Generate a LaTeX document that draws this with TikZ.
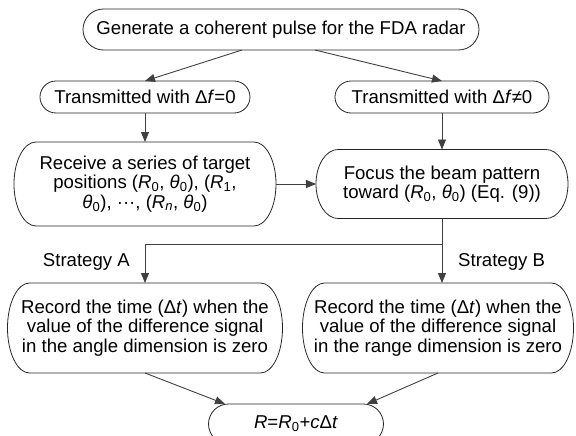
\documentclass[tikz,border=0pt]{standalone}
\usepackage{fontspec}
\setmainfont{Liberation Sans}
\usetikzlibrary{arrows.meta, positioning, calc}

\newcommand{\Rsub}[1]{\textit{R}\textsubscript{#1}}
\newcommand{\thsub}[1]{\textit{θ}\textsubscript{#1}}

\begin{document}
\begin{tikzpicture}[
node distance = 29pt and 40pt,
   box/.style = {inner sep=0pt, outer sep=0pt, align=center,
                 font=\fontsize{18.6pt}{19.5pt}\selectfont},
   lbl/.style = {inner sep=0pt, font=\fontsize{18.6pt}{19.5pt}\selectfont},
outline/.style = {draw=black!85, line width=0.8pt},
  line/.style = {black!75, line width=0.9pt},
            > = {Triangle[length=10pt, width=8pt]},
         ]
\useasboundingbox (-281pt,29.5pt) rectangle (295pt,-406.5pt);

\node (gen)   [box, minimum width=396pt, minimum height=41pt]
              {Generate a coherent pulse for the FDA radar};
\node (tz)    [box, below=31pt of gen, xshift=-136pt,
               minimum width=210pt, minimum height=32pt]
              {Transmitted with Δ\textit{f}=0};
\node (tn)    [box, below=31pt of gen, xshift=161pt,
               minimum width=214pt, minimum height=32pt]
              {Transmitted with Δ\textit{f}≠0};
\node (recv)  [box, below=of tz, minimum width=262pt, minimum height=84pt]
              {Receive a series of target\\
               positions (\Rsub{0}, \thsub{0}), (\Rsub{1},\\
               \thsub{0}), ···, (\Rsub{\textit{n}}, \thsub{0})};
\node (focus) [box, right=of recv, minimum width=252pt, minimum height=69pt]
              {Focus the beam pattern\\ toward (\Rsub{0}, \thsub{0}) (Eq. (9))};
\node (reca)  [box, below=57pt of recv, minimum width=275pt, minimum height=90pt]
              {Record the time (Δ\textit{t}) when the\\
               value of the difference signal\\
               in the angle dimension is zero};
\node (recb)  [box, right=20pt of reca, minimum width=271pt, minimum height=90pt]
              {Record the time (Δ\textit{t}) when the\\
               value of the difference signal\\
               in the range dimension is zero};
\node (res)   [box, below=31pt of reca, xshift=151pt,
               minimum width=175pt, minimum height=40pt]
              {\textit{R}=\Rsub{0}+\textit{c}Δ\textit{t}};

% pill outlines with elliptic ends
\foreach \nm in {gen,tz,tn,recv,focus,reca,recb,res}
  \draw[outline] let \p1 = (\nm.north west), \p2 = (\nm.south east),
                     \n1 = {(\y1-(\y2))/2}, \n2 = {min(22pt,\n1)} in
    ({\x1+\n2},\y1) -- ({\x2-\n2},\y1)
      arc[start angle=90, end angle=-90, x radius=\n2, y radius=\n1]
      -- ({\x1+\n2},\y2)
      arc[start angle=270, end angle=90, x radius=\n2, y radius=\n1]
      -- cycle;

%
\draw[line,->] ([xshift=-39pt]gen.south) -- (tz.north);
\draw[line,->] ([xshift=34pt]gen.south) -- (tn.north);
\draw[line,->] (tz) -- (recv);
\draw[line,->] (tn) -- (focus);
\draw[line,->] (recv) -- (focus);
\coordinate (split) at ([yshift=-26pt]focus.south);
\coordinate (landb) at (split |- recb.north);
\draw[line,->] (focus) -- (split) -| (reca);
\draw[line,->] (split) -- (landb);
\draw[line,->] (reca.south) -- ([xshift=-71pt]res.north);
\draw[line,->] (recb.south) -- ([xshift=71pt]res.north);

\node (sa) [lbl, above left=12pt and 15pt of reca.north] {Strategy A};
\node (sb) [lbl, above right=12pt and 16pt of landb] {Strategy B};
    \end{tikzpicture}
\end{document}
